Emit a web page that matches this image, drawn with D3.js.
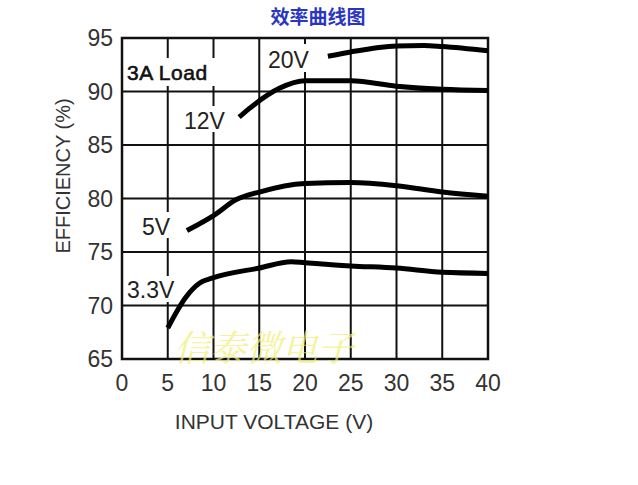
<!DOCTYPE html>
<html>
  <head>
    <meta charset="utf-8">
    <title>效率曲线图</title>
    <script src="https://d3js.org/d3.v7.min.js"></script>
    <style>
      body { margin: 0; background: #fff; }
      text { font-family: "Liberation Sans", Arial, sans-serif; }
    </style>
  </head>
  <body>
  <svg id="chart" width="638" height="485"></svg>
  <script>
    // 軸の目盛
    var xTicks = [0, 5, 10, 15, 20, 25, 30, 35, 40];
    var yTicks = [65, 70, 75, 80, 85, 90, 95];

    // 各出力電圧の効率カーブ (入力電圧, 効率%)
    var v20  = [[22.5, 93.3], [25, 93.7], [30, 94.25], [33, 94.3], [35, 94.2], [40, 93.8]];
    var v12  = [[12.8, 87.6], [13.9, 88.4], [17.2, 90.3], [20, 91.0], [25, 91.0], [30, 90.5], [35, 90.2], [40, 90.1]];
    var v5   = [[7.1, 77.0], [10, 78.4], [12.5, 79.9], [15, 80.6], [20, 81.4], [25, 81.5], [30, 81.2], [35, 80.6], [40, 80.2]];
    var v3_3 = [[5.0, 67.9], [7, 70.8], [8.5, 72.1], [10, 72.6], [15, 73.5], [18.5, 74.1], [20, 74.0], [25, 73.7], [30, 73.5], [35, 73.1], [40, 73.0]];

    var svg = d3.select("#chart");

    var x = d3.scaleLinear().domain([0, 40]).range([122, 488]);
    var y = d3.scaleLinear().domain([65, 95]).range([359, 38]);

    // タイトル
    svg.append("text")
      .attr("x", 318).attr("y", 24)
      .attr("text-anchor", "middle")
      .style("font-family", "'Noto Sans CJK SC', sans-serif")
      .style("font-weight", "bold")
      .style("font-size", "19px")
      .style("fill", "#2a35c0")
      .text("效率曲线图");

    // グリッド
    var grid = svg.append("g").attr("stroke", "#111").attr("stroke-width", 2);
    grid.selectAll(".vx").data(xTicks.slice(1, -1)).enter().append("line")
      .attr("x1", d => x(d)).attr("x2", d => x(d))
      .attr("y1", y(95)).attr("y2", y(65));
    grid.selectAll(".hy").data(yTicks.slice(1, -1)).enter().append("line")
      .attr("x1", x(0)).attr("x2", x(40))
      .attr("y1", d => y(d)).attr("y2", d => y(d));

    // ラベル背景 (グリッドを切る)
    var bgs = [[127, 58, 90, 28], [182, 106, 50, 26], [140, 212, 40, 26], [126, 276, 60, 26], [266, 44, 56, 28]];
    svg.selectAll(".bg").data(bgs).enter().append("rect")
      .attr("x", d => d[0]).attr("y", d => d[1])
      .attr("width", d => d[2]).attr("height", d => d[3])
      .attr("fill", "#fff");

    // 枠
    svg.append("rect")
      .attr("x", x(0)).attr("y", y(95))
      .attr("width", x(40) - x(0)).attr("height", y(65) - y(95))
      .attr("fill", "none").attr("stroke", "#111").attr("stroke-width", 2.5);

    // 目盛ラベル
    svg.append("g").selectAll("text").data(xTicks).enter().append("text")
      .attr("x", d => x(d)).attr("y", 391)
      .attr("text-anchor", "middle")
      .style("font-size", "23px").style("fill", "#333")
      .text(d => d);
    svg.append("g").selectAll("text").data(yTicks).enter().append("text")
      .attr("x", 113).attr("y", d => y(d) + 8)
      .attr("text-anchor", "end")
      .style("font-size", "23px").style("fill", "#333")
      .text(d => d);

    // 軸タイトル
    svg.append("text")
      .attr("x", 274).attr("y", 429)
      .attr("text-anchor", "middle")
      .style("font-size", "21px").style("fill", "#333")
      .text("INPUT VOLTAGE (V)");
    svg.append("text")
      .attr("transform", "translate(70,176) rotate(-90)")
      .attr("text-anchor", "middle")
      .style("font-size", "20px").style("fill", "#333")
      .text("EFFICIENCY (%)");

    // カーブ
    var line = d3.line()
      .x(d => x(d[0])).y(d => y(d[1]))
      .curve(d3.curveMonotoneX);
    svg.append("g").selectAll("path").data([v20, v12, v5, v3_3]).enter().append("path")
      .attr("d", line)
      .attr("fill", "none").attr("stroke", "#000")
      .attr("stroke-width", 5);

    // カーブのラベル
    var labels = [["20V", 268, 68], ["12V", 184, 129], ["5V", 142, 235], ["3.3V", 127, 298]];
    svg.append("g").selectAll("text").data(labels).enter().append("text")
      .attr("x", d => d[1]).attr("y", d => d[2])
      .style("font-size", "23px").style("fill", "#222")
      .text(d => d[0]);

    svg.append("text")
      .attr("x", 127).attr("y", 80)
      .style("font-size", "21px").style("fill", "#111")
      .style("stroke", "#111").style("stroke-width", 0.6)
      .style("letter-spacing", "0.5px")
      .text("3A Load");

    // 透かし
    svg.append("text")
      .attr("x", 174).attr("y", 361)
      .style("font-family", "'Noto Serif CJK SC', 'Noto Sans CJK SC', serif")
      .style("font-size", "36px")
      .style("font-style", "italic")
      .style("fill", "#f2ee70").style("opacity", 0.7)
      .text("信泰微电子");
  </script>
  </body>
</html>
